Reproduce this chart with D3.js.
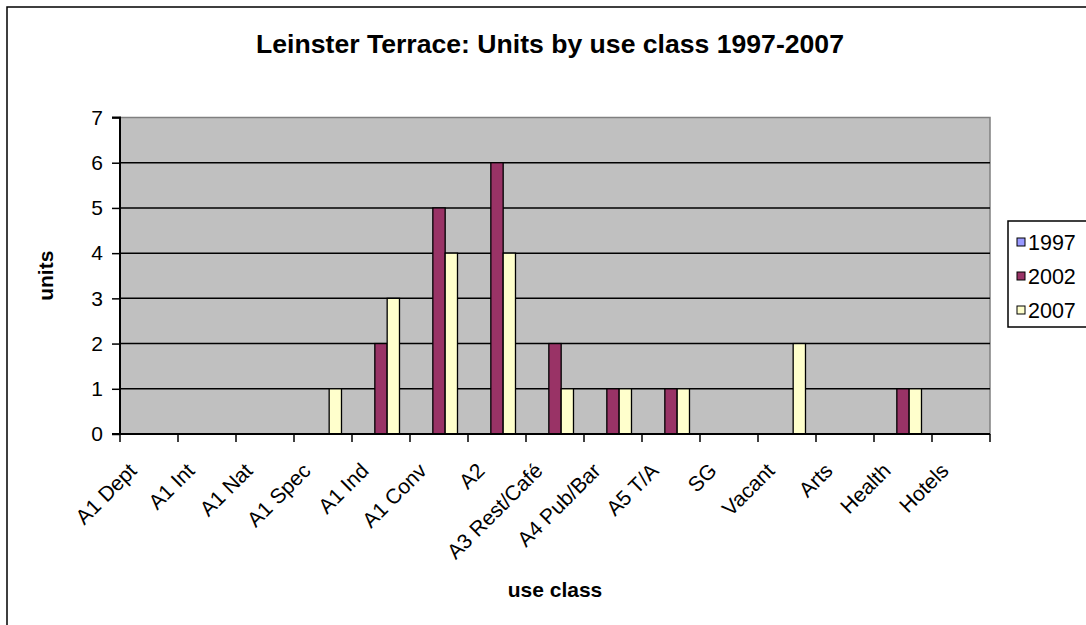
<!DOCTYPE html>
<html><head><meta charset="utf-8">
<script src="https://cdn.jsdelivr.net/npm/d3@7"></script>
<style>body{margin:0;background:#fff;}svg{display:block;font-family:Arial,"Liberation Sans",sans-serif;}</style>
</head><body>
<svg id="chart" width="1086" height="625"></svg>
<script>
const categories = ["A1 Dept","A1 Int","A1 Nat","A1 Spec","A1 Ind","A1 Conv","A2","A3 Rest/Café","A4 Pub/Bar","A5 T/A","SG","Vacant","Arts","Health","Hotels"];
const seriesNames = ["1997","2002","2007"];
const values1997 = [0,0,0,0,0,0,0,0,0,0,0,0,0,0,0];
const values2002 = [0,0,0,0,2,5,6,2,1,1,0,0,0,1,0];
const values2007 = [0,0,0,1,3,4,4,1,1,1,0,2,0,1,0];
const yTicks = [0,1,2,3,4,5,6,7];
const colors = ["#9999FF","#993366","#FFFFCC"];

const svg = d3.select("#chart");
const L = 120, R = 990, T = 117.5, B = 434;
const FONT = "Arial, 'Liberation Sans', sans-serif";

// outer border
svg.append("rect").attr("x",7).attr("y",7).attr("width",1200).attr("height",800)
  .attr("fill","#fff").attr("stroke","#000").attr("stroke-width",1.5);

const x = d3.scaleBand().domain(categories).range([L,R]).paddingInner(0).paddingOuter(0);
const y = d3.scaleLinear().domain([0,7]).range([B,T]);
const bw = x.bandwidth();
const barW = bw*0.2125;
const groupPad = (bw - 3*barW)/2;

svg.append("rect").attr("x",L).attr("y",T).attr("width",R-L).attr("height",B-T)
  .attr("fill","#C0C0C0").attr("stroke","#808080").attr("stroke-width",1.5);

// gridlines
svg.append("g").selectAll("line").data(yTicks.filter(d=>d>0 && d<7)).join("line")
  .attr("x1",L).attr("x2",R).attr("y1",d=>y(d)).attr("y2",d=>y(d))
  .attr("stroke","#000").attr("stroke-width",1.5);

// bars
const data = [values1997,values2002,values2007];
data.forEach((vals,si)=>{
  svg.append("g").selectAll("rect").data(vals.map((v,i)=>({c:categories[i],v}))).join("rect")
    .filter(d=>d.v>0)
    .attr("x",d=>x(d.c)+groupPad+si*barW)
    .attr("y",d=>y(d.v))
    .attr("width",barW)
    .attr("height",d=>y(0)-y(d.v))
    .attr("fill",colors[si]).attr("stroke","#000").attr("stroke-width",1.3);
});

// y axis
const yAxis = d3.axisLeft(y).tickValues(yTicks).tickSize(8).tickPadding(9).tickFormat(d3.format("d"));
const gy = svg.append("g").attr("transform",`translate(${L},0)`).call(yAxis);
gy.select(".domain").attr("stroke","#000").attr("stroke-width",2).attr("d",`M-8,${T}H0V${B}H-8`);
gy.selectAll(".tick line").attr("stroke","#000").attr("stroke-width",1.5);
gy.selectAll(".tick text").attr("font-size",21).attr("fill","#000").attr("font-family",FONT);

// x axis
const xAxis = d3.axisBottom(x).tickSize(0).tickFormat(d=>d);
const gx = svg.append("g").attr("transform",`translate(0,${B})`).call(xAxis);
gx.select(".domain").attr("stroke","#000").attr("stroke-width",2).attr("d",`M${L},0H${R}`);
gx.selectAll(".tick text")
  .attr("font-size",21).attr("fill","#000").attr("font-family",FONT)
  .attr("text-anchor","end").attr("dy",null).attr("y",0)
  .attr("transform",`translate(-11,38) rotate(-45)`);
// boundary ticks
const bounds = categories.map(c=>x(c)).concat([R]);
svg.append("g").selectAll("line").data(bounds).join("line")
  .attr("x1",d=>d).attr("x2",d=>d).attr("y1",B).attr("y2",B+8)
  .attr("stroke","#000").attr("stroke-width",1.5);

// title
svg.append("text").attr("x",550).attr("y",53).attr("text-anchor","middle")
  .attr("font-size",26.6).attr("font-weight","bold").text("Leinster Terrace: Units by use class 1997-2007");
// axis titles
svg.append("text").attr("x",555).attr("y",597).attr("text-anchor","middle")
  .attr("font-size",21).attr("font-weight","bold").text("use class");
svg.append("text").attr("transform",`translate(53,${(T+B)/2}) rotate(-90)`).attr("text-anchor","middle")
  .attr("font-size",21).attr("font-weight","bold").text("units");

// legend
const lg = svg.append("g");
lg.append("rect").attr("x",1008).attr("y",221).attr("width",120).attr("height",106)
  .attr("fill","#fff").attr("stroke","#000").attr("stroke-width",1.5);
seriesNames.forEach((s,i)=>{
  const cy = 242 + i*34;
  lg.append("rect").attr("x",1017).attr("y",cy-4).attr("width",8).attr("height",8)
    .attr("fill",colors[i]).attr("stroke","#000").attr("stroke-width",1);
  lg.append("text").attr("x",1028).attr("y",cy+8).attr("font-size",21.5).text(s);
});
</script>
</body></html>
